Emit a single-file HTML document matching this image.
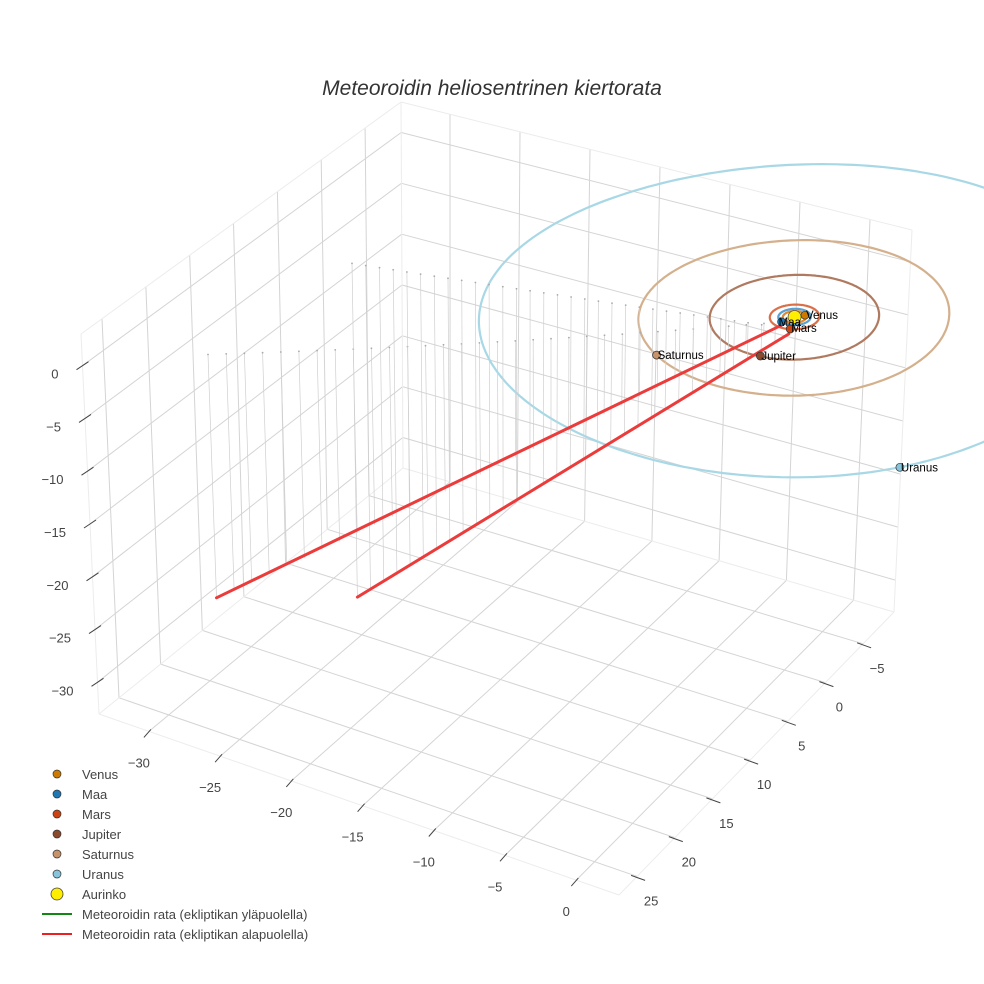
<!DOCTYPE html>
<html><head><meta charset="utf-8"><style>
html,body{margin:0;padding:0;background:#fff;}
svg{display:block;font-family:"Liberation Sans",sans-serif;}
</style></head>
<body>
<svg id="chart" width="984" height="984" viewBox="0 0 984 984">
<rect width="984" height="984" fill="#fff"/>
<text x="492" y="95" text-anchor="middle" font-size="21" font-style="italic" fill="#333">Meteoroidin heliosentrinen kiertorata</text>
<g id="grid"></g>
<g id="ticks"></g>
<g id="orbits"></g>
<g id="drops"></g>
<g id="traj"></g>
<g id="planets"></g>
<g id="legend"></g>
</svg>
<script>
// ---- data ----
const planetNames = ["Venus","Maa","Mars","Jupiter","Saturnus","Uranus"];
const planetX = [0.46, -0.4, 0.5, 0.53, -5.07, 14.5];
const planetY = [-0.48, 0.9, 1.4, 5.12, 8.07, 12.6];
const orbitRadii = [0.72, 1.0, 1.52, 5.2, 9.54, 19.2];
const xTicks = [-30,-25,-20,-15,-10,-5,0];
const yTicks = [-5,0,5,10,15,20,25];
const zTicks = [0,-5,-10,-15,-20,-25,-30];
const trajStartX = [-0.4, 0.4];
const trajStartY = [0.9, 1.4];
const trajStartZ = [-0.3, -0.5];
const trajEndX = [-28.1, -26.9];
const trajEndY = [22.0, 7.3];
const trajEndZ = [-23, -32];
const legendLabels = ["Venus","Maa","Mars","Jupiter","Saturnus","Uranus","Aurinko","Meteoroidin rata (ekliptikan yläpuolella)","Meteoroidin rata (ekliptikan alapuolella)"];

// ---- style / layout ----
const planetColors = ["#cc7a00","#1f77b4","#cc4411","#8b4a2b","#c8926a","#87c5dc"];
const orbitColors = ["#e08a30","#5aa0d0","#d9704a","#b07a60","#d4b08c","#a8d8e6"];
const X0=-33.5,X1=3,Y0=-9.1,Y1=27.4,Z0=-33,Z1=3;
const C = { // box corners [x][y][z]
 "000":[403,468],"100":[894,612],"010":[99,714],"110":[619,895],
 "001":[401,102],"101":[912,230],"011":[81,334],"111":[615,495]};
const NS="http://www.w3.org/2000/svg";
function lerp(a,b,t){return [a[0]+(b[0]-a[0])*t,a[1]+(b[1]-a[1])*t];}
function P(x,y,z){
  const u=(x-X0)/(X1-X0), v=(y-Y0)/(Y1-Y0), w=(z-Z0)/(Z1-Z0);
  const b0=lerp(lerp(C["000"],C["100"],u),lerp(C["010"],C["110"],u),v);
  const b1=lerp(lerp(C["001"],C["101"],u),lerp(C["011"],C["111"],u),v);
  return lerp(b0,b1,w);
}
function mk(tag,attrs,parent){const e=document.createElementNS(NS,tag);for(const k in attrs)e.setAttribute(k,attrs[k]);parent.appendChild(e);return e;}
function line(a,b,attrs,parent){return mk("line",Object.assign({x1:a[0].toFixed(1),y1:a[1].toFixed(1),x2:b[0].toFixed(1),y2:b[1].toFixed(1)},attrs),parent);}

// ---- grid ----
const grid=document.getElementById("grid");
const gs={stroke:"#d4d4d4","stroke-width":1};
const es={stroke:"#ececec","stroke-width":1};
for(const y of yTicks){
  let e=line(P(X0,y,Z0),P(X0,y,Z1),gs,grid);
  
  e=line(P(X0,y,Z0),P(X1,y,Z0),gs,grid);
  
}
for(const x of xTicks){
  let e=line(P(x,Y0,Z0),P(x,Y0,Z1),gs,grid);
  
  e=line(P(x,Y0,Z0),P(x,Y1,Z0),gs,grid);
  
}
for(const z of zTicks){
  let e=line(P(X0,Y1,z),P(X0,Y0,z),gs,grid);
  
  e=line(P(X0,Y0,z),P(X1,Y0,z),gs,grid);
  
}
[[[X0,Y1,Z1],[X0,Y0,Z1]],[[X0,Y0,Z1],[X1,Y0,Z1]],[[X0,Y1,Z0],[X0,Y1,Z1]],[[X1,Y0,Z0],[X1,Y0,Z1]],[[X0,Y0,Z0],[X0,Y0,Z1]],
 [[X0,Y1,Z0],[X1,Y1,Z0]],[[X1,Y0,Z0],[X1,Y1,Z0]],[[X0,Y0,Z0],[X1,Y0,Z0]],[[X0,Y0,Z0],[X0,Y1,Z0]]].forEach(s=>{
  const e=line(P(...s[0]),P(...s[1]),es,grid);
  
});

// ---- ticks ----
const tk=document.getElementById("ticks");
const ts={stroke:"#444","stroke-width":1};
const fmt=v=>String(v).replace("-","\u2212");
for(const z of zTicks){
  const p=P(X0,Y1,z);
  const t=line([p[0]+6,p[1]-4],[p[0]-6,p[1]+4],ts,tk);
  
  const l=mk("text",{x:(p[0]-24).toFixed(1),y:(p[1]+13).toFixed(1),"text-anchor":"end","font-size":13,fill:"#444"},tk);
  l.textContent=fmt(z);
  
  
}
for(const x of xTicks){
  const p=P(x,Y1,Z0);
  const t=line([p[0]+2,p[1]-2],[p[0]-5,p[1]+6],ts,tk);
  
  const l=mk("text",{x:(p[0]-10).toFixed(1),y:(p[1]+36).toFixed(1),"text-anchor":"middle","font-size":13,fill:"#444"},tk);
  l.textContent=fmt(x);
  
  
}
for(const y of yTicks){
  const p=P(X1,y,Z0);
  const t=line([p[0]-6,p[1]-1],[p[0]+8,p[1]+4],ts,tk);
  
  const l=mk("text",{x:(p[0]+14).toFixed(1),y:(p[1]+29).toFixed(1),"text-anchor":"middle","font-size":13,fill:"#444"},tk);
  l.textContent=fmt(y);
  
  
}

// ---- orbits ----
const orb=document.getElementById("orbits");
orbitRadii.forEach((r,i)=>{
  let pts=[];
  for(let k=0;k<=240;k++){const a=k/240*2*Math.PI;const p=P(r*Math.cos(a),r*Math.sin(a),0);pts.push(p[0].toFixed(1)+","+p[1].toFixed(1));}
  const e=mk("polyline",{points:pts.join(" "),fill:"none",stroke:orbitColors[i],"stroke-width":2.2},orb);
  
  
});

// ---- drop lines & trajectory ----
const dr=document.getElementById("drops"), tr=document.getElementById("traj");
for(let s=0;s<trajStartX.length;s++){
  const N=32;
  for(let k=0;k<=N;k++){
    const t=k/N;
    const x=trajEndX[s]+(trajStartX[s]-trajEndX[s])*t;
    const y=trajEndY[s]+(trajStartY[s]-trajEndY[s])*t;
    const z=trajEndZ[s]+(trajStartZ[s]-trajEndZ[s])*t;
    const a=P(x,y,z), b=P(x,y,0);
    const d=line(a,b,{stroke:"#cfcfcf","stroke-width":0.7},dr);
    
    const c=mk("circle",{cx:b[0].toFixed(1),cy:b[1].toFixed(1),r:0.9,fill:"#aaa"},dr);
    
  }
  const e=line(P(trajEndX[s],trajEndY[s],trajEndZ[s]),P(trajStartX[s],trajStartY[s],trajStartZ[s]),{stroke:"#ec3b3b","stroke-width":3,"stroke-linecap":"round"},tr);
  
  
}

// ---- planets ----
const pl=document.getElementById("planets");
const sun=P(0,0,0);
const sm=mk("circle",{cx:sun[0],cy:sun[1],r:6.5,fill:"#ffee00",stroke:"#555","stroke-width":0.8},pl);


planetNames.forEach((n,i)=>{
  const p=P(planetX[i],planetY[i],0);
  const c=mk("circle",{cx:p[0].toFixed(1),cy:p[1].toFixed(1),r:4,fill:planetColors[i],stroke:"#333","stroke-width":0.7},pl);
  
  
  const l=mk("text",{x:(p[0]+(n==="Maa"?-3:1)).toFixed(1),y:(p[1]+(n==="Mars"?3:4)).toFixed(1),"font-size":11.5,fill:"#000"},pl);
  l.textContent=n;
  
  
});

// ---- legend ----
const lg=document.getElementById("legend");
legendLabels.forEach((lab,i)=>{
  const y=774+i*20;
  const g=mk("g",{},lg);
  
  
  if(i<6){mk("circle",{cx:57,cy:y,r:4,fill:planetColors[i],stroke:"#333","stroke-width":0.7},g);}
  else if(i===6){mk("circle",{cx:57,cy:y,r:6,fill:"#ffee00",stroke:"#444","stroke-width":0.8},g);}
  else {mk("line",{x1:42,y1:y,x2:72,y2:y,stroke:i===7?"#118811":"#ec2020","stroke-width":2},g);}
  const t=mk("text",{x:82,y:y+5,"font-size":13,fill:"#444"},g);
  t.textContent=lab;
});
</script>
</body></html>
